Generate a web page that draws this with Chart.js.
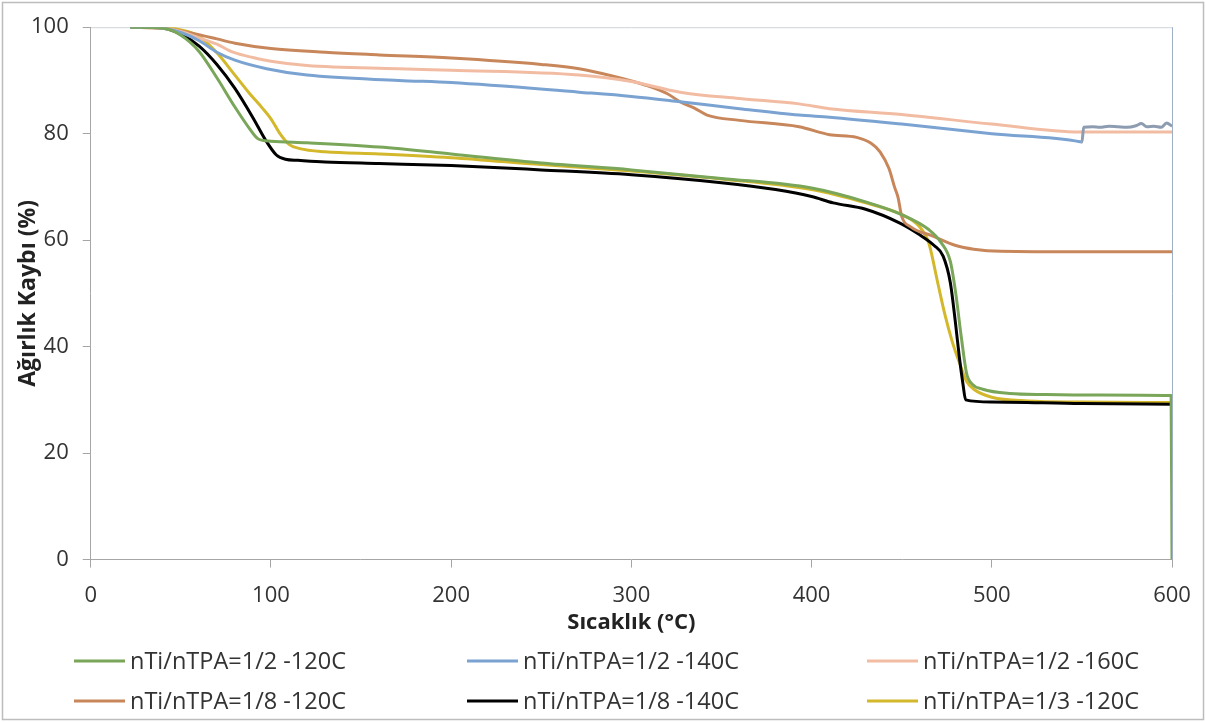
<!DOCTYPE html>
<html lang="tr">
<head>
<meta charset="utf-8">
<title>TGA</title>
<script src="https://cdn.jsdelivr.net/npm/chart.js@4"></script>
<style>
  html, body { margin: 0; padding: 0; background: #fff; }
  #wrap { width: 1206px; height: 722px; position: relative; }
</style>
</head>
<body>
<div id="wrap"><canvas id="tgaChart" width="1206" height="722"></canvas></div>
<script>
// series labels
const labels = [
  'nTi/nTPA=1/2 -120C', 'nTi/nTPA=1/2 -140C', 'nTi/nTPA=1/2 -160C',
  'nTi/nTPA=1/8 -120C', 'nTi/nTPA=1/8 -140C', 'nTi/nTPA=1/3 -120C'
];

// temperatures (°C) and weights (%)
const tGreen = [22, 40, 50, 60, 70, 80, 88, 93, 100, 120, 160, 200, 250, 300, 350, 400, 430, 450, 465, 472, 477, 480, 483, 486, 489, 495, 510, 530, 560, 599.5, 600];
const wGreen = [100, 99.8, 98.5, 95.5, 90.5, 85, 81, 79, 78.6, 78.3, 77.5, 76.2, 74.5, 73.2, 71.6, 69.8, 67.2, 64.8, 62, 59.5, 56, 50, 42, 35, 33, 32, 31.2, 31, 30.9, 30.8, 0];

const tBlue = [22, 40, 50, 60, 70, 80, 97.6, 120, 171, 200, 271, 300, 327, 360, 393, 410, 450, 500, 549, 550, 551, 556, 560, 565, 570, 575, 580, 583, 586, 590, 594, 597, 600];
const wBlue = [100, 99.8, 99, 97.5, 95.3, 93.8, 92.2, 91, 90, 89.6, 87.8, 87, 86, 84.7, 83.5, 83.1, 81.8, 80, 78.5, 78.4, 81.2, 81.3, 81.2, 81.4, 81.3, 81.2, 81.5, 81.9, 81.3, 81.4, 81.2, 82, 81.4];

const tPeach = [22, 40, 50, 60, 70, 79, 90, 100, 120, 171, 200, 271, 300, 327, 360, 393, 410, 450, 500, 549, 560, 600];
const wPeach = [100, 99.8, 99.2, 98, 96.8, 95.3, 94.3, 93.6, 92.8, 92.2, 91.9, 91, 89.8, 87.8, 86.6, 85.6, 84.7, 83.6, 81.8, 80.3, 80.3, 80.3];

const tOrange = [22, 40, 50, 60, 70, 80, 100, 130, 160, 200, 250, 271, 290, 308, 320, 327, 335, 342, 360, 393, 410, 425, 433, 438, 443, 446, 448, 450, 455, 467, 480, 490, 505, 550, 600];
const wOrange = [100, 99.8, 99.3, 98.6, 97.8, 97, 96, 95.3, 94.8, 94.2, 93, 92.2, 90.8, 89.1, 87.5, 86, 84.8, 83.5, 82.5, 81.3, 79.8, 79.3, 78.2, 76.6, 73.4, 70, 68, 64.5, 62.5, 60.8, 59, 58.3, 57.9, 57.8, 57.8];

const tBlack = [22, 40, 50, 60, 70, 80, 90, 97, 103, 108, 115, 130, 160, 200, 250, 300, 350, 380, 400, 412, 430, 449, 460, 468, 473, 477, 480, 482, 484, 485.5, 500, 550, 600];
const wBlack = [100, 99.8, 98.7, 96.5, 93, 88.5, 83, 78.8, 76, 75.2, 75, 74.7, 74.4, 74, 73.2, 72.3, 70.8, 69.5, 68.2, 67, 65.8, 63.2, 61, 59, 57, 52, 44, 38, 33, 30, 29.6, 29.3, 29.2];

const tYellow = [22, 40, 50, 60, 70, 80, 88, 95, 100, 105, 110, 116, 130, 160, 200, 250, 300, 350, 400, 430, 450, 460, 465, 470, 474, 478, 482, 486, 490, 500, 520, 550, 600];
const wYellow = [100, 100, 99.5, 98.3, 95.2, 91, 87.6, 84.9, 82.8, 80, 78, 77.2, 76.6, 76.2, 75.5, 74.2, 73, 71.5, 69.5, 67, 64.8, 62.5, 59.5, 52, 46, 41, 37, 33.5, 32, 30.5, 29.8, 29.6, 29.5];

const xTicks = [0, 100, 200, 300, 400, 500, 600];
const yTicks = [0, 20, 40, 60, 80, 100];

const colors = ['#79a659', '#7ba3d2', '#f2bca3', '#c8875b', '#000000', '#d4b82c'];
const FONT = '"Open Sans", "Noto Sans", sans-serif';
const yTitle = 'Ağırlık Kaybı (%)';
const xTitle = 'Sıcaklık (°C)';

function toPoints(ts, ws) {
  return ts.map((t, i) => ({ x: t, y: ws[i] }));
}

const series = [
  toPoints(tGreen, wGreen), toPoints(tBlue, wBlue), toPoints(tPeach, wPeach),
  toPoints(tOrange, wOrange), toPoints(tBlack, wBlack), toPoints(tYellow, wYellow)
];

// plot-area top/right border, outer frame and both axis titles
const framePlugin = {
  id: 'frame',
  beforeDraw(chart) {
    const { ctx, chartArea: a } = chart;
    ctx.save();
    ctx.strokeStyle = '#bdbdbd';
    ctx.lineWidth = 1.5;
    ctx.strokeRect(2.5, 2.5, chart.width - 5, chart.height - 5);
    ctx.lineWidth = 1;
    ctx.strokeStyle = '#cfd3d8';
    ctx.beginPath();
    ctx.moveTo(a.left, a.top + 0.5);
    ctx.lineTo(a.right + 0.5, a.top + 0.5);
    ctx.stroke();
    ctx.strokeStyle = '#9fb0c6';
    ctx.beginPath();
    ctx.moveTo(a.right + 0.5, a.top);
    ctx.lineTo(a.right + 0.5, a.bottom);
    ctx.stroke();

    ctx.fillStyle = '#222';
    ctx.textAlign = 'center';
    ctx.textBaseline = 'middle';
    ctx.font = 'bold 22px ' + FONT;
    ctx.fillText(xTitle, (a.left + a.right) / 2, 623);

    ctx.translate(28, (a.top + a.bottom) / 2);
    ctx.rotate(-Math.PI / 2);
    ctx.font = 'bold 23px ' + FONT;
    ctx.fillText(yTitle, 0, 0);
    ctx.restore();
  }
};

// Excel-like legend grid: 3 columns, 2 rows
const gridLegend = {
  id: 'gridLegend',
  afterDraw(chart) {
    const { ctx } = chart;
    const cols = [74, 467, 867];
    const rows = [661, 701];
    ctx.save();
    ctx.font = '23.5px ' + FONT;
    ctx.textBaseline = 'middle';
    chart.data.datasets.forEach((ds, i) => {
      const x = cols[i % 3];
      const y = rows[Math.floor(i / 3)];
      ctx.strokeStyle = ds.borderColor;
      ctx.lineWidth = 3;
      ctx.beginPath();
      ctx.moveTo(x, y);
      ctx.lineTo(x + 51, y);
      ctx.stroke();
      ctx.fillStyle = '#333';
      ctx.fillText(ds.label, x + 56, y + 1);
    });
    ctx.restore();
  }
};

new Chart(document.getElementById('tgaChart'), {
  type: 'line',
  data: {
    datasets: series.map((pts, i) => ({
      label: labels[i],
      data: pts,
      borderColor: colors[i],
      backgroundColor: colors[i],
      borderWidth: 3,
      pointRadius: 0,
      cubicInterpolationMode: 'monotone',
      segment: i === 1 ? { borderColor: c => c.p0.parsed.x >= 550 ? '#8d9cb0' : undefined } : undefined
    }))
  },
  options: {
    responsive: false,
    animation: false,
    layout: { padding: { left: 17, right: 34, top: 15, bottom: 98 } },
    plugins: {
      legend: { display: false },
      tooltip: { enabled: false }
    },
    scales: {
      x: {
        type: 'linear',
        min: 0,
        max: 600,
        afterBuildTicks: axis => { axis.ticks = xTicks.map(v => ({ value: v })); },
        ticks: { font: { family: FONT, size: 22 }, color: '#333', padding: 15, maxRotation: 0 },
        grid: { drawOnChartArea: false, drawTicks: true, tickLength: 8, color: '#a6a6a6' },
        border: { color: '#a6a6a6' }
      },
      y: {
        min: 0,
        max: 100,
        afterBuildTicks: axis => { axis.ticks = yTicks.map(v => ({ value: v })); },
        ticks: { font: { family: FONT, size: 22 }, color: '#333', padding: 14 },
        grid: { drawOnChartArea: false, drawTicks: true, tickLength: 8, color: '#a6a6a6' },
        border: { color: '#a6a6a6' }
      }
    }
  },
  plugins: [framePlugin, gridLegend]
});
</script>
</body>
</html>
